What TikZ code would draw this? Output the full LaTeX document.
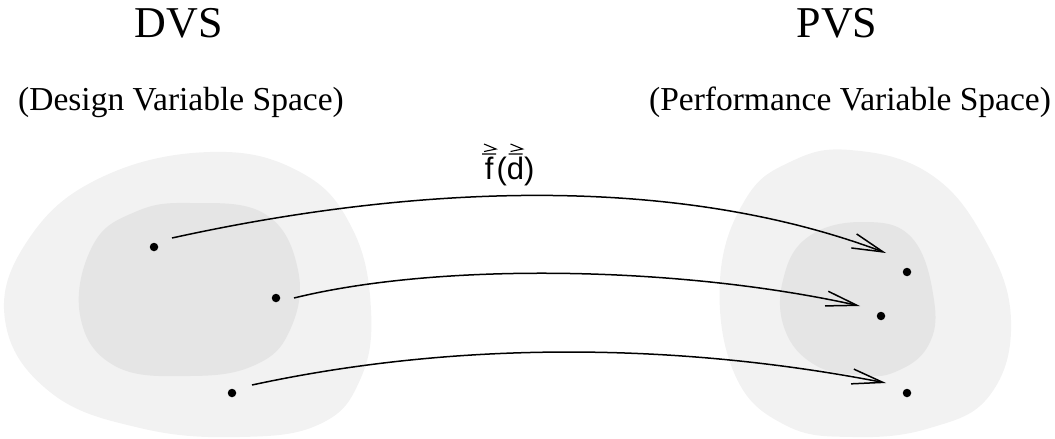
\documentclass[tikz,border=0pt]{standalone}
\usepackage{fontspec}
\setmainfont{Liberation Serif}
\newfontfamily\mapfont{Liberation Sans}
\usepackage{tikz}
\usetikzlibrary{arrows.meta}
\tikzset{
    outerset/.style = {fill=black!5, draw=none},
    innerset/.style = {fill=black!10, draw=none},
    spacetitle/.style = {anchor=base, font=\fontsize{44}{48}\selectfont},
    spacesub/.style   = {anchor=base, font=\fontsize{33.5}{38}\selectfont}
}
% double chevron accent over a letter
\newcommand{\dblvec}[1]{\leavevmode\vbox{\offinterlineskip\halign{\hfil##\hfil\cr
    \tikz[x=1pt,y=1pt,line width=1.1pt]{\draw (0,0) -- (14,0) (2,10) -- (14,5) -- (2,2.5);}\cr
    \noalign{\kern2pt}#1\cr}}}

\begin{document}
\begin{tikzpicture}[
        x=1pt, y=-1pt,
        dot/.style={circle, fill=black, inner sep=0pt, minimum size=8.5pt},
        maparrow/.style={-{Straight Barb[length=31pt,width=15pt]}, line width=1.5pt},
        maplabel/.style={anchor=base, font=\mapfont\fontsize{31}{34}\selectfont}
    ]
    \useasboundingbox (0,0) rectangle (1055,439);

    % --- Variable spaces ---
    \fill[outerset] plot[smooth cycle, tension=0.7] coordinates {(210,152) (300,172) (352,228) (371,310) (360,380) (320,424) (240,437) (140,428) (50,392) (5,320) (28,240) (100,178)};
    \fill[innerset] plot[smooth cycle, tension=0.7] coordinates {(190,203) (265,214) (298,270) (290,330) (255,365) (190,376) (115,366) (80,315) (93,245) (135,212)};
    \fill[outerset] plot[smooth cycle, tension=0.7] coordinates {(850,150) (930,174) (985,240) (1011,320) (990,395) (930,428) (853,437) (785,425) (735,375) (720,280) (745,200) (790,162)};
    \fill[innerset] plot[smooth cycle, tension=0.7] coordinates {(863,222) (912,238) (934,300) (928,346) (895,372) (860,375) (815,365) (785,330) (783,280) (808,237)};

    % --- Titles ---
    \node[spacetitle] (dvs) at (179,37) {DVS};
    \node[spacesub] (dvs_sub) at (181,110) {(Design Variable Space)};
    \node[spacetitle] (pvs) at (837,37) {PVS};
    \node[spacesub] (pvs_sub) at (850,110) {(Performance Variable Space)};

    % --- Design points and their images ---
    \node[dot] (d1) at (154,247) {};
    \node[dot] (d2) at (276,298) {};
    \node[dot] (d3) at (232,393) {};
    \node[dot] (p1) at (907,272) {};
    \node[dot] (p2) at (881,316) {};
    \node[dot] (p3) at (907,393) {};

    \coordinate (s1) at ([shift={(18,-9)}]d1.center);
    \coordinate (s2) at ([shift={(18,0)}]d2.center);
    \coordinate (s3) at ([shift={(20,-8)}]d3.center);
    \coordinate (e1) at ([shift={(-21,-19)}]p1.center);
    \coordinate (e2) at ([shift={(-21,-10)}]p2.center);
    \coordinate (e3) at ([shift={(-21,-10)}]p3.center);

    % --- Mapping ---
    \draw[maparrow] (s1) .. controls (390,190) and (660,168) .. (e1);
    \draw[maparrow] (s2) .. controls (440,262) and (680,266) .. (e2);
    \draw[maparrow] (s3) .. controls (460,340) and (680,343) .. (e3);

    \node[maplabel] (fmap) at (508,179) {\dblvec{f}(\dblvec{d})};
\end{tikzpicture}
\end{document}
